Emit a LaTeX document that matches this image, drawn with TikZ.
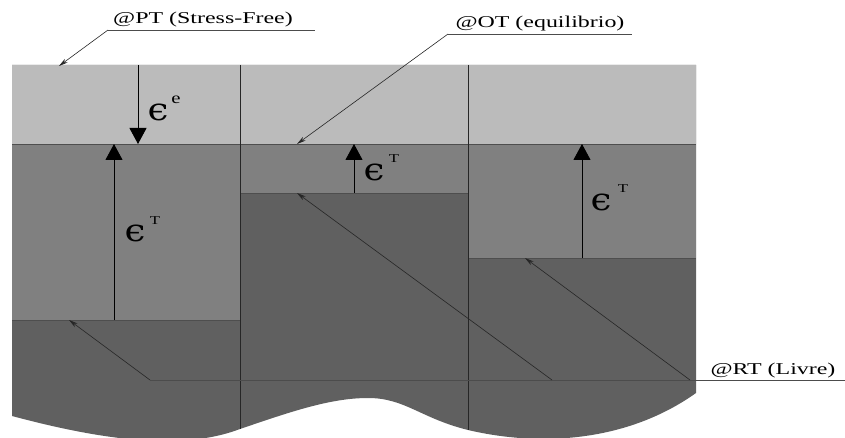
\documentclass[tikz,border=0pt]{standalone}
\usepackage{fontspec}
\setmainfont{Liberation Serif}
\newfontfamily\epsfont{DejaVu Serif}
\usetikzlibrary{arrows.meta}
\definecolor{lightband}{HTML}{BBBBBB}
\definecolor{midband}{HTML}{808080}
\definecolor{darkband}{HTML}{606060}
\definecolor{edgeline}{HTML}{4E4E4E}
\newcommand{\bigeps}{\scalebox{1.2}[1]{\epsfont ϵ}}
\begin{document}
\begin{tikzpicture}[x=1pt,y=-1pt,
  bigtri/.style={-{Triangle[width=17pt,length=16pt]}, line width=0.9pt, draw=black},
  leader/.style={-{Stealth[length=9pt,width=4.5pt]}, line width=0.6pt, draw=black!85},
  underl/.style={line width=0.7pt, draw=black!70},
  divider/.style={line width=0.9pt, draw=black!85},
  bandedge/.style={line width=0.8pt, draw=edgeline},
  lbl/.style={inner sep=0pt, anchor=base, font=\fontsize{16.5}{16.5}\selectfont},
  epsl/.style={inner sep=0pt, font=\fontsize{31}{31}\selectfont},
  supe/.style={inner sep=0pt, font=\fontsize{16}{16}\selectfont},
  supT/.style={inner sep=0pt, font=\fontsize{12}{12}\selectfont}]
\useasboundingbox (0,0) rectangle (845,438);
% dark base with wavy bottom
\fill[darkband] (12,65) -- (696,65) -- (696,393)
  .. controls (630,440) and (545,448) .. (468,430)
  .. controls (420,418) and (405,398) .. (368,398)
  .. controls (330,398) and (290,412) .. (240,429)
  .. controls (190,448) and (120,445) .. (12,416) -- cycle;
% medium bands
\fill[midband] (12,144) rectangle (240,320);
\fill[midband] (240,144) rectangle (468,193);
\fill[midband] (468,144) rectangle (696,258);
% light top band
\fill[lightband] (12,65) rectangle (696,144);
% band edges
\draw[bandedge] (12,144) -- (696,144);
\draw[bandedge] (12,320) -- (240,320);
\draw[bandedge] (240,193) -- (468,193);
\draw[bandedge] (468,258) -- (696,258);
% dividers
\draw[divider] (240,65) -- (240,429);
\draw[divider] (468,65) -- (468,430);
% strain arrows
\coordinate (ee0) at (138,65);  \coordinate (ee1) at (138,144);
\coordinate (t10) at (114,320); \coordinate (t11) at (114,144);
\coordinate (t20) at (354,193); \coordinate (t21) at (354,144);
\coordinate (t30) at (582,258); \coordinate (t31) at (582,144);
\draw[bigtri] (ee0) -- (ee1);
\draw[bigtri] (t10) -- (t11);
\draw[bigtri] (t20) -- (t21);
\draw[bigtri] (t30) -- (t31);
% strain labels
\node[epsl] (epsE) at (158,112) {\bigeps};
\node[supe] (epsEs) at (176,100) {\scalebox{1.3}[1]{e}};
\node[epsl] (epsT1) at (135,233) {\bigeps};
\node[supT] (epsT1s) at (155,221) {\scalebox{1.4}[1]{T}};
\node[epsl] (epsT2) at (374,172) {\bigeps};
\node[supT] (epsT2s) at (394,159) {\scalebox{1.4}[1]{T}};
\node[epsl] (epsT3) at (601,202) {\bigeps};
\node[supT] (epsT3s) at (623,189) {\scalebox{1.4}[1]{T}};
% PT label
\node[lbl] (pt) at (203,24) {\scalebox{1.45}[1]{@PT (Stress-Free)}};
\coordinate (ptA) at (108,30); \coordinate (ptB) at (315,30);
\coordinate (ptT) at (59,66);
\draw[underl] (ptA) -- (ptB);
\draw[leader] (ptA) -- (ptT);
% OT label
\node[lbl] (ot) at (540,28) {\scalebox{1.45}[1]{@OT (equilibrio)}};
\coordinate (otA) at (448,34); \coordinate (otB) at (632,34);
\coordinate (otT) at (297,144);
\draw[underl] (otA) -- (otB);
\draw[leader] (otA) -- (otT);
% RT label
\node[lbl] (rt) at (773,374) {\scalebox{1.45}[1]{@RT (Livre)}};
\coordinate (rtA) at (150,380); \coordinate (rtB) at (845,380);
\coordinate (rtC) at (552,380); \coordinate (rtD) at (690,380);
\coordinate (rtT1) at (69,320); \coordinate (rtT2) at (297,193); \coordinate (rtT3) at (525,258);
\draw[underl] (rtA) -- (rtB);
\draw[leader] (rtA) -- (rtT1);
\draw[leader] (rtC) -- (rtT2);
\draw[leader] (rtD) -- (rtT3);
\end{tikzpicture}
\end{document}
